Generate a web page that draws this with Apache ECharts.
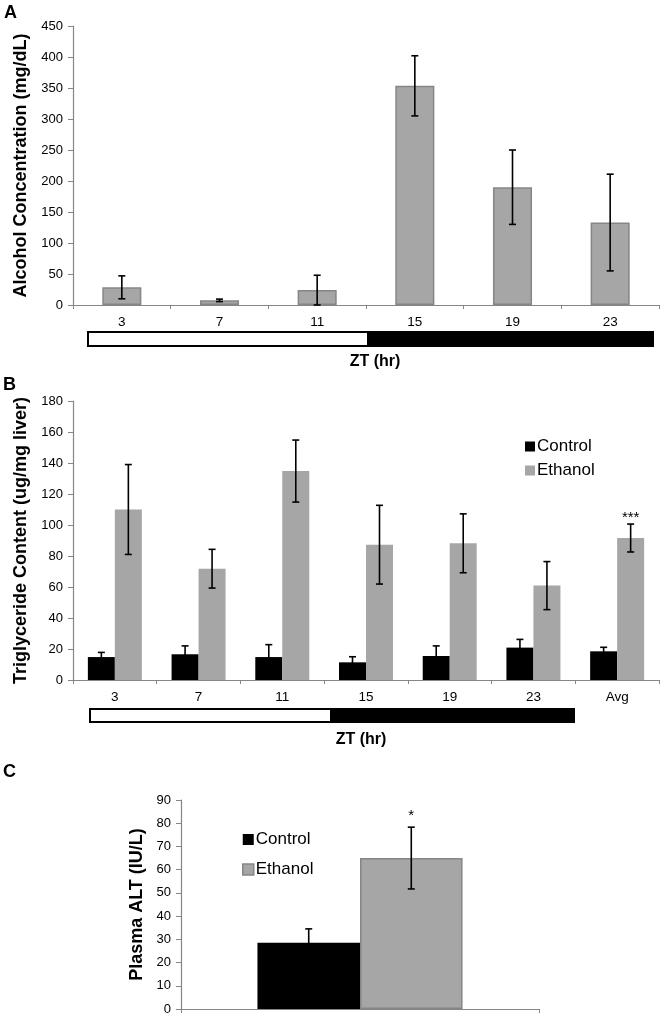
<!DOCTYPE html>
<html>
<head>
<meta charset="utf-8">
<script src="https://cdn.jsdelivr.net/npm/echarts@6/dist/echarts.min.js"></script>
<style>
  html, body { margin: 0; padding: 0; background: #fff; }
  #chart { width: 664px; height: 1018px; }
</style>
</head>
<body>
<div id="chart"></div>
<script>
// 面板A：血液酒精浓度
const zt = ['3', '7', '11', '15', '19', '23'];
const alcoholMean = [28.5, 7.5, 24, 353.5, 190, 133];
const alcoholErr = [18.5, 2, 24, 48.5, 60, 78];

// 面板B：肝脏甘油三酯
const ztAvg = ['3', '7', '11', '15', '19', '23', 'Avg'];
const tgControl = [14.8, 16.6, 14.8, 11.4, 15.5, 20.9, 18.5];
const tgControlErr = [3, 5.4, 8, 3.6, 6.5, 5.3, 2.6];
const tgEthanol = [110, 71.8, 134.8, 87.3, 88.2, 60.9, 91.6];
const tgEthanolErr = [29, 12.5, 20, 25.4, 19, 15.5, 9];
const tgSig = ['', '', '', '', '', '', '***'];

// 面板C：血浆ALT
const altCat = [''];
const altControl = [28.5];
const altControlErr = [6];
const altEthanol = [65];
const altEthanolErr = [13.3];
const altSig = ['*'];

const FONT = 'Liberation Sans, Arial, sans-serif';
const AXIS_GRAY = '#868686';
const BAR_GRAY = '#a6a6a6';

// 误差线（custom series），offset为相对类目宽度的偏移
function errorBars(mean, err, cats, sig, axisIdx, offset, sigGap) {
    return {
        type: 'custom',
        xAxisIndex: axisIdx,
        yAxisIndex: axisIdx,
        z: 10,
        silent: true,
        data: mean.map((m, i) => [i, m, err[i], sig ? sig[i] : '']),
        renderItem: (params, api) => {
            const i = api.value(0), m = api.value(1), e = api.value(2);
            const bw = api.size([1, 0])[0];
            const top = api.coord([i, m + e]);
            const bot = api.coord([i, Math.max(m - e, 0)]);
            const x = top[0] + offset * bw;
            const cap = 3.5;
            const st = { stroke: '#000', lineWidth: 1.6 };
            const children = [
                { type: 'line', shape: { x1: x, y1: top[1], x2: x, y2: bot[1] }, style: st },
                { type: 'line', shape: { x1: x - cap, y1: top[1], x2: x + cap, y2: top[1] }, style: st },
                { type: 'line', shape: { x1: x - cap, y1: bot[1], x2: x + cap, y2: bot[1] }, style: st }
            ];
            const s = (sig && sig[i]) || '';
            if (s) {
                children.push({
                    type: 'text',
                    style: { text: s, x: x, y: top[1] - sigGap, align: 'center', verticalAlign: 'middle',
                             font: '15px ' + FONT, fill: '#000' }
                });
            }
            return { type: 'group', children };
        }
    };
}

function catAxis(gridIndex, data, showLabel) {
    return {
        type: 'category', gridIndex, data,
        axisLine: { lineStyle: { color: AXIS_GRAY, width: 1.2 } },
        axisTick: { show: true, length: 4, lineStyle: { color: AXIS_GRAY } },
        axisLabel: { show: showLabel, color: '#000', fontSize: 13.5, fontFamily: FONT, margin: 10 }
    };
}

function valAxis(gridIndex, max, interval, name, nameGap) {
    return {
        type: 'value', gridIndex, min: 0, max, interval,
        name, nameLocation: 'middle', nameGap, nameRotate: 90,
        nameTextStyle: { color: '#000', fontWeight: 'bold', fontSize: 18, fontFamily: FONT },
        axisLine: { show: true, lineStyle: { color: AXIS_GRAY, width: 1.2 } },
        axisTick: { show: true, length: 5, lineStyle: { color: AXIS_GRAY } },
        axisLabel: { color: '#000', fontSize: 13, fontFamily: FONT, margin: 10 },
        splitLine: { show: false }
    };
}

const gapA = 0.60, gapB = 0.355, gapC = 0.427;

const option = {
    animation: false,
    backgroundColor: '#fff',
    grid: [
        { left: 73, top: 26, width: 586, height: 279, outerBoundsMode: 'none' },
        { left: 73, top: 401, width: 586, height: 279, outerBoundsMode: 'none' },
        { left: 181, top: 800, width: 358, height: 209, outerBoundsMode: 'none' }
    ],
    xAxis: [catAxis(0, zt, true), catAxis(1, ztAvg, true), catAxis(2, altCat, false)],
    yAxis: [
        valAxis(0, 450, 50, 'Alcohol Concentration (mg/dL)', 35),
        valAxis(1, 180, 20, 'Triglyceride Content (ug/mg liver)', 35),
        valAxis(2, 90, 10, 'Plasma ALT (IU/L)', 32)
    ],
    legend: [
        {
            orient: 'vertical', left: 520, top: 433, itemWidth: 10, itemHeight: 10, itemGap: 7,
            selectedMode: false, icon: 'rect',
            textStyle: { fontSize: 17, fontFamily: FONT, color: '#000', padding: [0, 0, 0, -3] },
            data: [
                { name: 'Control', itemStyle: { color: '#000', borderWidth: 0 } },
                { name: 'Ethanol', itemStyle: { color: BAR_GRAY, borderWidth: 0 } }
            ]
        },
        {
            orient: 'vertical', left: 237, top: 826, itemWidth: 11, itemHeight: 11, itemGap: 13,
            selectedMode: false, icon: 'rect',
            textStyle: { fontSize: 17, fontFamily: FONT, color: '#000', padding: [0, 0, 0, -3] },
            data: [
                { name: 'Control', itemStyle: { color: '#000', borderWidth: 0 } },
                { name: 'Ethanol', itemStyle: { color: BAR_GRAY, borderColor: AXIS_GRAY, borderWidth: 1.5 } }
            ]
        }
    ],
    series: [
        {
            type: 'bar', name: 'Alcohol', xAxisIndex: 0, yAxisIndex: 0, data: alcoholMean,
            barCategoryGap: gapA * 100 + '%',
            itemStyle: { color: BAR_GRAY, borderColor: AXIS_GRAY, borderWidth: 1.5 }
        },
        errorBars(alcoholMean, alcoholErr, zt, null, 0, 0, 0),

        {
            type: 'bar', name: 'Control', xAxisIndex: 1, yAxisIndex: 1, data: tgControl,
            barGap: '0%', barCategoryGap: gapB * 100 + '%', itemStyle: { color: '#000' }
        },
        {
            type: 'bar', name: 'Ethanol', xAxisIndex: 1, yAxisIndex: 1, data: tgEthanol,
            barGap: '0%', barCategoryGap: gapB * 100 + '%', itemStyle: { color: BAR_GRAY }
        },
        errorBars(tgControl, tgControlErr, ztAvg, null, 1, -(1 - gapB) / 4, 0),
        errorBars(tgEthanol, tgEthanolErr, ztAvg, tgSig, 1, (1 - gapB) / 4, 6),

        {
            type: 'bar', name: 'Control', xAxisIndex: 2, yAxisIndex: 2, data: altControl,
            barGap: '0%', barCategoryGap: gapC * 100 + '%', itemStyle: { color: '#000' }
        },
        {
            type: 'bar', name: 'Ethanol', xAxisIndex: 2, yAxisIndex: 2, data: altEthanol,
            barGap: '0%', barCategoryGap: gapC * 100 + '%',
            itemStyle: { color: BAR_GRAY, borderColor: AXIS_GRAY, borderWidth: 1.5 }
        },
        errorBars(altControl, altControlErr, altCat, null, 2, -(1 - gapC) / 4, 0),
        errorBars(altEthanol, altEthanolErr, altCat, altSig, 2, (1 - gapC) / 4, 11)
    ],
    graphic: [
        // 面板字母
        { type: 'text', left: 4, top: 4, style: { text: 'A', font: 'bold 18px ' + FONT, fill: '#000' } },
        { type: 'text', left: 3, top: 376, style: { text: 'B', font: 'bold 18px ' + FONT, fill: '#000' } },
        { type: 'text', left: 3, top: 763, style: { text: 'C', font: 'bold 18px ' + FONT, fill: '#000' } },
        // 光照/黑暗条
        { type: 'rect', shape: { x: 88, y: 332, width: 280, height: 14 }, style: { fill: '#fff', stroke: '#000', lineWidth: 2 } },
        { type: 'rect', shape: { x: 368, y: 332, width: 285, height: 14 }, style: { fill: '#000', stroke: '#000', lineWidth: 2 } },
        { type: 'rect', shape: { x: 90, y: 709, width: 241, height: 13 }, style: { fill: '#fff', stroke: '#000', lineWidth: 2 } },
        { type: 'rect', shape: { x: 331, y: 709, width: 243, height: 13 }, style: { fill: '#000', stroke: '#000', lineWidth: 2 } },
        // x轴标题
        { type: 'text', x: 375, y: 362, style: { text: 'ZT (hr)', font: 'bold 16px ' + FONT, fill: '#000', align: 'center', verticalAlign: 'middle' } },
        { type: 'text', x: 361, y: 740, style: { text: 'ZT (hr)', font: 'bold 16px ' + FONT, fill: '#000', align: 'center', verticalAlign: 'middle' } }
    ]
};

const chart = echarts.init(document.getElementById('chart'), null, { renderer: 'canvas' });
chart.setOption(option);
</script>
</body>
</html>
